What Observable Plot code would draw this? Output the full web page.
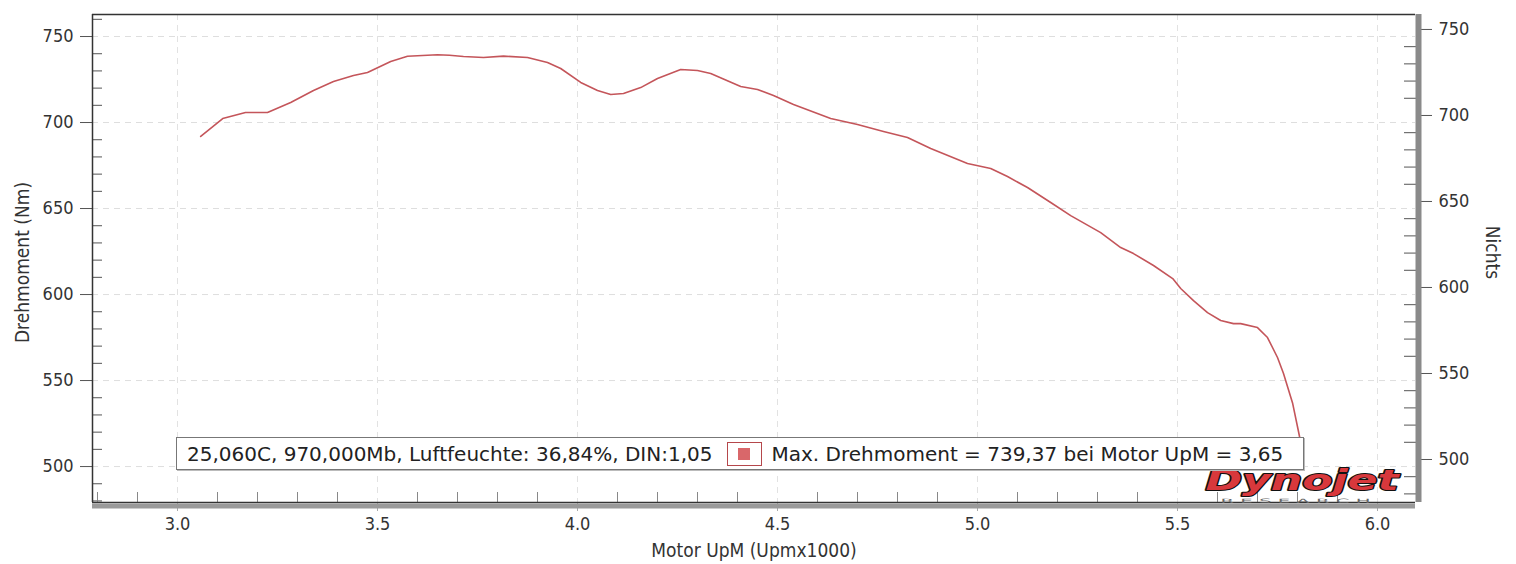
<!DOCTYPE html>
<html><head><meta charset="utf-8">
<script src="https://cdn.jsdelivr.net/npm/d3@7"></script>
<script src="https://cdn.jsdelivr.net/npm/@observablehq/plot@0.6"></script>
<style>
body{margin:0;background:#fff;}
#wrap{position:relative;width:1516px;height:564px;font-family:"DejaVu Sans Condensed","DejaVu Sans",sans-serif;}
#legend{position:absolute;left:176px;top:437px;width:1128px;height:33px;box-sizing:border-box;border:1px solid #777;background:#fff;display:flex;align-items:center;font-family:"DejaVu Sans",sans-serif;font-size:20px;color:#222;white-space:nowrap;padding-left:10px;box-shadow:1px 1px 0 #bbb;}
#legend .sw{display:inline-block;width:35px;height:24px;box-sizing:border-box;border:1.5px solid #b5474b;margin-left:15px;margin-right:9px;position:relative;}
#legend .sw::after{content:"";position:absolute;left:10px;top:5px;width:12px;height:12px;background:#d9676a;}
</style>
</head><body>
<div id="wrap"></div>
<script>
// ---- data ----
const rpm = [3.058,3.113,3.170,3.225,3.283,3.340,3.390,3.440,3.475,3.533,3.575,3.650,3.680,3.715,3.765,3.815,3.875,3.925,3.958,4.008,4.050,4.083,4.115,4.158,4.200,4.258,4.300,4.333,4.408,4.450,4.490,4.540,4.633,4.700,4.765,4.825,4.883,4.975,5.033,5.075,5.125,5.183,5.233,5.308,5.358,5.390,5.440,5.488,5.508,5.540,5.575,5.608,5.640,5.658,5.700,5.725,5.750,5.765,5.788,5.803,5.815];
const torque = [691.9,702.3,705.8,705.8,711.6,718.6,723.8,727.3,729.1,735.5,738.5,739.4,739.1,738.4,737.8,738.6,737.8,734.9,731.4,723.3,718.6,716.3,716.9,720.3,725.6,730.8,730.2,728.5,720.9,719.2,715.7,710.5,702.3,698.8,694.8,691.3,684.9,676.2,673.3,668.6,662.2,653.5,645.9,636.0,627.3,623.8,616.9,609.3,603.5,596.5,589.5,584.9,583.1,583.1,580.8,575.0,563.4,554.1,536.6,519.8,506.0];
const xTicks = [3.0,3.5,4.0,4.5,5.0,5.5,6.0];
const xTickLabels = ["3.0","3.5","4.0","4.5","5.0","5.5","6.0"];
const yTicksLeft = [500,550,600,650,700,750];
const yTicksRight = [500,550,600,650,700,750];
const xLabel = "Motor UpM (Upmx1000)";
const yLabelLeft = "Drehmoment (Nm)";
const yLabelRight = "Nichts";
const legendInfo = "25,060C, 970,000Mb, Luftfeuchte: 36,84%, DIN:1,05";
const legendSeries = "Max. Drehmoment = 739,37 bei Motor UpM = 3,65";
const logoText = "Dynojet";
const logoSub = "R E S E A R C H";

// ---- derived ----
const xDomain = [2.7875, 6.095];
const yDomain = [479.1, 762.8];
const rightOffset = 4.1; // right axis is shifted relative to left axis
const data = rpm.map((r, i) => ({rpm: r, nm: torque[i]}));
const minorX = d3.range(28, 61).map(d => d / 10).filter(d => Math.abs(d * 2 - Math.round(d * 2)) > 1e-6);
const minorYLeft = d3.range(480, 761, 10).filter(d => d % 50 !== 0 && d > yDomain[0] && d < yDomain[1]);
const rightPos = yTicksRight.map(d => d + rightOffset);
const minorYRight = d3.range(480, 761, 10).filter(d => d % 50 !== 0).map(d => d + rightOffset).filter(d => d > yDomain[0] && d < yDomain[1]);

const font = '"DejaVu Sans Condensed","DejaVu Sans",sans-serif';

const plot = Plot.plot({
  width: 1516, height: 564,
  marginLeft: 92, marginRight: 101, marginTop: 14, marginBottom: 62,
  style: {fontFamily: font, fontSize: "18px", color: "#333", background: "#fff", overflow: "visible"},
  x: {domain: xDomain},
  y: {domain: yDomain},
  marks: [
    Plot.gridY(yTicksLeft, {stroke: "#dedede", strokeOpacity: 1, strokeDasharray: "6,5"}),
    Plot.gridX(xTicks, {stroke: "#e2e2e2", strokeOpacity: 1, strokeDasharray: "6,5"}),
    // left axis
    Plot.axisY(yTicksLeft, {anchor: "left", tickSize: 12, tickPadding: 7, tickFormat: d => String(d), label: null, stroke: "#555"}),
    Plot.axisY(minorYLeft, {anchor: "left", tickSize: -10, tickFormat: () => "", label: null, stroke: "#555"}),
    // right axis
    Plot.axisY(rightPos, {anchor: "right", tickSize: 16, tickPadding: 7, tickFormat: (d, i) => String(yTicksRight[i]), label: null, stroke: "#555"}),
    Plot.axisY(minorYRight, {anchor: "right", tickSize: -12, tickFormat: () => "", label: null, stroke: "#555"}),
    // x axis
    Plot.axisX(xTicks, {anchor: "bottom", tickSize: 9, tickPadding: 6, tickFormat: (d, i) => xTickLabels[i], label: null, stroke: "#aaa"}),
    Plot.axisX(minorX, {anchor: "bottom", tickSize: -10, tickFormat: () => "", label: null, stroke: "#888"}),
    // frame
    Plot.ruleY([yDomain[1]], {stroke: "#333", strokeWidth: 1.5}),
    Plot.ruleX([xDomain[0]], {stroke: "#333", strokeWidth: 1.5}),
    Plot.ruleY([yDomain[0]], {stroke: "#333", strokeWidth: 1.5}),
    Plot.ruleY([yDomain[0]], {stroke: "#9a9a9a", strokeWidth: 5, dy: 3.5}),
    Plot.ruleX([xDomain[1]], {stroke: "#8a8a8a", strokeWidth: 6, dx: 3}),
    // curve
    Plot.line(data, {x: "rpm", y: "nm", stroke: "#c4555a", strokeWidth: 1.6}),
    // axis titles
    Plot.text([yLabelLeft], {frameAnchor: "left", textAnchor: "middle", rotate: -90, dx: -70, dy: 4, fontSize: 19, fill: "#333"}),
    Plot.text([yLabelRight], {frameAnchor: "right", textAnchor: "middle", rotate: 90, dx: 77, dy: -6, fontSize: 19, fill: "#333"}),
    Plot.text([xLabel], {frameAnchor: "bottom", dx: 0, dy: 54, fontSize: 19, fill: "#333"}),
    // logo
    Plot.text([logoText], {frameAnchor: "bottom-right", textAnchor: "end", lineAnchor: "bottom", dx: -17, dy: -13, fontSize: 29, fontWeight: "bold", fontStyle: "italic", fill: "#d8383c", stroke: "#111", strokeWidth: 2, paintOrder: "stroke", className: "logo-main"}),
    Plot.text([logoSub], {frameAnchor: "bottom-right", textAnchor: "end", lineAnchor: "bottom", dx: -45, dy: 0, fontSize: 6, fill: "#666", className: "logo-sub"})
  ]
});

// stretch the logo text to the width it has in the reference
d3.select(plot).selectAll(".logo-main text").attr("textLength", 193).attr("lengthAdjust", "spacingAndGlyphs");
d3.select(plot).selectAll(".logo-sub text").attr("textLength", 150).attr("lengthAdjust", "spacingAndGlyphs");

const wrap = document.getElementById("wrap");
wrap.appendChild(plot);
const leg = document.createElement("div");
leg.id = "legend";
leg.innerHTML = `<span>${legendInfo}</span><span class="sw"></span><span>${legendSeries}</span>`;
wrap.appendChild(leg);
</script>
</body></html>
